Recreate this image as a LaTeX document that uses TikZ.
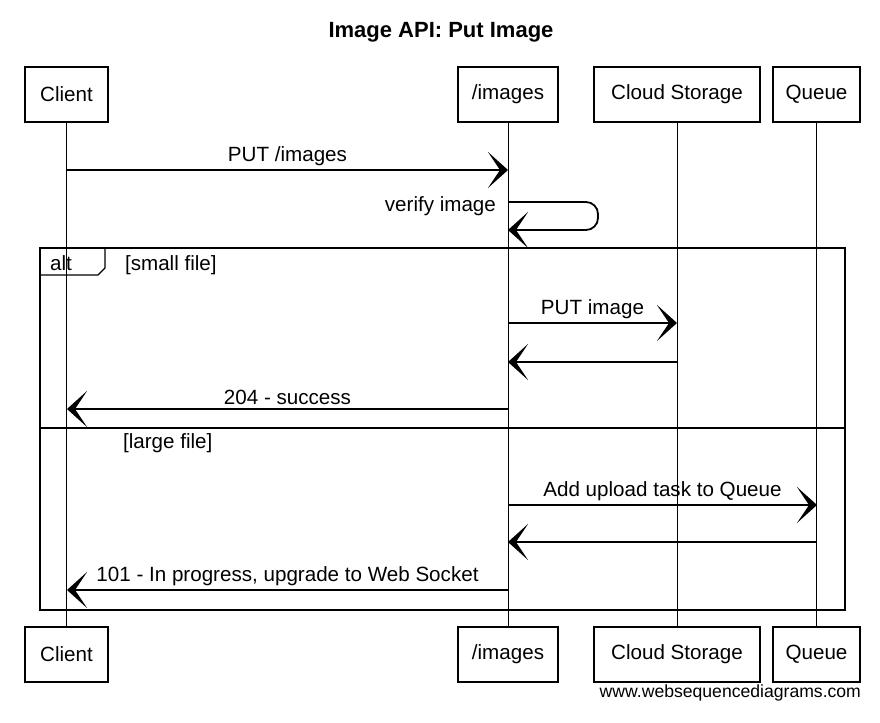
\documentclass[tikz,border=0pt]{standalone}
\usepackage{fontspec}
\setmainfont{Liberation Sans}
\usetikzlibrary{arrows.meta,positioning,calc}
\tikzset{
    actor/.style={draw, line width=0.8pt, minimum height=27.5pt, inner sep=2pt, font=\fontsize{10.3}{12}\selectfont},
    msg/.style={-{Stealth[length=10pt, width=18pt, inset=6pt]}, line width=0.9pt},
    lifeline/.style={line width=0.45pt},
    msgtext/.style={above, inner sep=1.5pt, font=\fontsize{10.3}{12}\selectfont},
    frame/.style={line width=0.7pt},
    guard/.style={anchor=west, font=\fontsize{10.3}{12}\selectfont}
}

\begin{document}
\begin{tikzpicture}[x=0.5pt, y=-0.5pt]
    \useasboundingbox (0,0) rectangle (880,723);
    \node[font=\fontsize{11}{13}\selectfont\bfseries] (title) at (441,32) {Image API: Put Image};

    % participants, top and bottom
    \node[actor, minimum width=41.5pt] (clientT) at (66.5,94.5) {Client};
    \node[actor, minimum width=50pt] (imagesT) at (508,94.5) {/images};
    \node[actor, minimum width=83pt] (storageT) at (677,94.5) {Cloud Storage};
    \node[actor, minimum width=43.5pt] (queueT) at (816.5,94.5) {Queue};
    \node[actor, minimum width=41.5pt] (clientB) at (66.5,654.5) {Client};
    \node[actor, minimum width=50pt] (imagesB) at (508,654.5) {/images};
    \node[actor, minimum width=83pt] (storageB) at (677,654.5) {Cloud Storage};
    \node[actor, minimum width=43.5pt] (queueB) at (816.5,654.5) {Queue};

    \foreach \p in {client,images,storage,queue}
        \draw[lifeline] (\p T) -- (\p B);

    % PUT /images
    \coordinate (c1) at (67,170);
    \coordinate (i1) at (508,170);
    \draw[msg] (c1) -- node[msgtext] {PUT /images} (i1);

    % verify image
    \coordinate (i2) at (508,202);
    \coordinate (i3) at (508,230);
    \draw[msg, rounded corners=6pt] (i2) -- ++(90,0) -- ++(0,28) -- (i3);
    \node[anchor=east, font=\fontsize{10.3}{12}\selectfont] (verify) at (503,206) {verify image};

    % alt frame
    \draw[frame] (40,248) rectangle (845,610);
    \draw[frame] (40,275) -- (98,275) -- (105,268) -- (105,248);
    \node[font=\fontsize{10.3}{12}\selectfont] (alt) at (61,263) {alt};
    \node[guard] (small) at (118,265) {[small file]};
    \draw[frame] (40,428) -- (845,428);
    \node[guard] (large) at (116,443) {[large file]};

    % small file
    \coordinate (i4) at (508,323);
    \coordinate (s4) at (677,323);
    \draw[msg] (i4) -- node[msgtext] {PUT image} (s4);
    \coordinate (s5) at (677,362);
    \coordinate (i5) at (508,362);
    \draw[msg] (s5) -- (i5);
    \coordinate (i6) at (508,409);
    \coordinate (c6) at (67,409);
    \draw[msg] (i6) -- node[msgtext] {204 - success} (c6);

    % large file
    \coordinate (i7) at (508,505);
    \coordinate (q7) at (817,505);
    \draw[msg] (i7) -- node[msgtext] {Add upload task to Queue} (q7);
    \coordinate (q8) at (817,542);
    \coordinate (i8) at (508,542);
    \draw[msg] (q8) -- (i8);
    \coordinate (i9) at (508,590);
    \coordinate (c9) at (67,590);
    \draw[msg] (i9) -- node[msgtext] {101 - In progress, upgrade to Web Socket} (c9);

    \node[anchor=east, font=\fontsize{8.8}{11}\selectfont] (wsd) at (868,693) {www.websequencediagrams.com};
\end{tikzpicture}
\end{document}
